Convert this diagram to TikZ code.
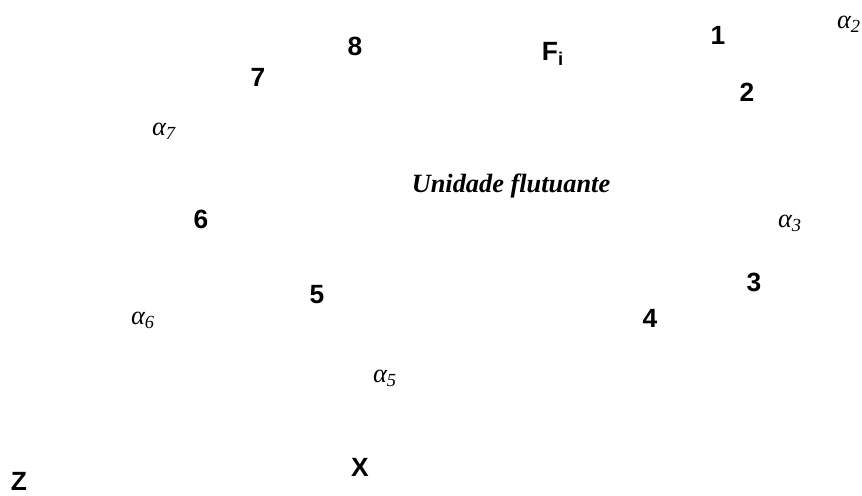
\documentclass[tikz,border=0pt]{standalone}
\usepackage{fontspec}
\setmainfont{Liberation Serif}
\setsansfont{Liberation Sans}
\usetikzlibrary{positioning}

\begin{document}
\begin{tikzpicture} [
    x=0.02cm, y=-0.02cm,
    point_label/.style={inner sep=0pt, font=\fontsize{15}{18}\selectfont\sffamily\bfseries},
    angle_label/.style={inner sep=0pt, font=\fontsize{15}{18}\selectfont\itshape},
    body_label/.style={inner sep=0pt, font=\fontsize{15}{18}\selectfont\bfseries\itshape}
]
    \useasboundingbox (0,0) rectangle (862,495);

    % Nodes
    \node[point_label] (p1) at (718,35) {1};
    \node[point_label] (p2) at (747,92) {2};
    \node[point_label] (p3) at (754,282) {3};
    \node[point_label] (p4) at (650,318) {4};
    \node[point_label] (p5) at (317,295) {5};
    \node[point_label] (p6) at (201,219) {6};
    \node[point_label] (p7) at (258,77) {7};
    \node[point_label] (p8) at (355,46) {8};
    \node[point_label] (force) at (553,54) {F\textsubscript{i}};

    \node[angle_label] (alpha2) at (849,24) {α\textsubscript{2}};
    \node[angle_label] (alpha3) at (790,223) {α\textsubscript{3}};
    \node[angle_label] (alpha5) at (385,378) {α\textsubscript{5}};
    \node[angle_label] (alpha6) at (143,320) {α\textsubscript{6}};
    \node[angle_label] (alpha7) at (164,131) {α\textsubscript{7}};

    \node[body_label] (body) at (511,186) {Unidade flutuante};

    \node[point_label] (axis_x) at (360,467) {X};
    \node[point_label] (axis_z) at (19,481) {Z};

\end{tikzpicture}
\end{document}
